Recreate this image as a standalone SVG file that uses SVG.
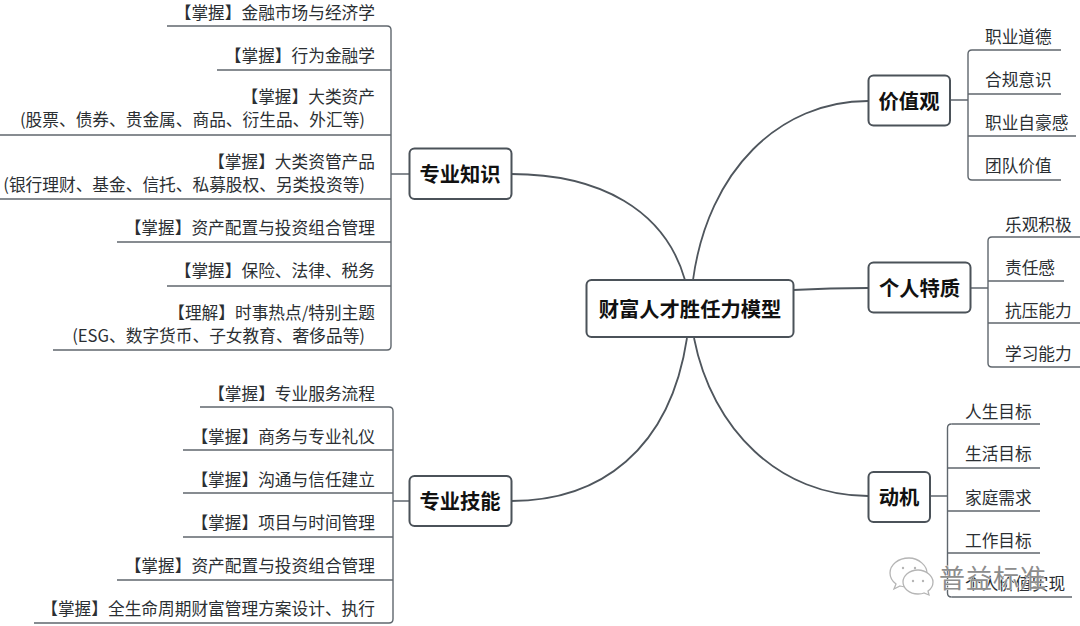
<svg xmlns="http://www.w3.org/2000/svg" width="1080" height="626" viewBox="0 0 1080 626">
<style>
text{font-family:"Noto Sans CJK SC","Noto Sans",sans-serif;fill:#2b2f33;font-size:16.700px}
.r{text-anchor:end}
.box{fill:#fff;stroke:#4b5259;stroke-width:2}
.t{font-weight:700;fill:#111;text-anchor:middle;font-size:20.300px}
.u,.tr{fill:none;stroke:#5f666d;stroke-width:1.400}
.cv{fill:none;stroke:#4f565d;stroke-width:1.800}
.wm{fill:#8d8d8d;stroke:#fff;stroke-width:.8;font-size:26px;paint-order:stroke;letter-spacing:1px}
.ic{fill:#fff;stroke:#b5b5b5;stroke-width:1.300}
.dot{fill:#b5b5b5}
</style>
<g id="connectors">
<path class="cv" d="M511 174C600 174 665 210 685 280"/>
<path class="cv" d="M511 501C600 501 670 450 687 338"/>
<path class="cv" d="M693 280C708 170 780 101 868 101"/>
<path class="cv" d="M793 290Q830 288 868 288"/>
<path class="cv" d="M694 338C712 430 780 496 868 496"/>
<path class="tr" d="M391 30V346M387 350Q391 350 391 346M387 26Q391 26 391 30M391 174H409"/>
<path class="tr" d="M393 411V619M389 623Q393 623 393 619M389 407Q393 407 393 411M393 501H409"/>
<path class="tr" d="M968 54V176M972 50Q968 50 968 54M972 180Q968 180 968 176M950 100H968"/>
<path class="tr" d="M988 241V363M992 237Q988 237 988 241M992 367Q988 367 988 363M970 288H988"/>
<path class="tr" d="M947.500 428V593M951.500 424Q947.500 424 947.500 428M951.500 597Q947.500 597 947.500 593M930 496H947.500"/>
</g>
<g id="root"><rect class="box" x="586.500" y="280" width="207" height="57" rx="5"/><text class="t" x="690" y="316.500">财富人才胜任力模型</text></g>
<g id="zhuanye-zhishi"><rect class="box" x="409.500" y="148.500" width="102" height="50.500" rx="5"/><text class="t" x="460" y="181.500">专业知识</text></g>
<g id="zhuanye-jineng"><rect class="box" x="409.500" y="476" width="102" height="50" rx="5"/><text class="t" x="460" y="508.500">专业技能</text></g>
<g id="jiazhiguan"><rect class="box" x="868.500" y="75.500" width="81.500" height="50" rx="5"/><text class="t" x="909" y="108.500">价值观</text></g>
<g id="geren-tezhi"><rect class="box" x="868.500" y="262.500" width="102" height="50" rx="5"/><text class="t" x="919.500" y="295.500">个人特质</text></g>
<g id="dongji"><rect class="box" x="868.500" y="472" width="61.500" height="50" rx="5"/><text class="t" x="899" y="504.500">动机</text></g>
<g id="k1"><text class="r" x="375" y="18.500">【掌握】金融市场与经济学</text><path class="u" d="M167 26H387"/></g>
<g id="k2"><text class="r" x="375" y="61.500">【掌握】行为金融学</text><path class="u" d="M217 70H391"/></g>
<g id="k3"><text class="r" x="375" y="102.500">【掌握】大类资产</text><text class="r" x="365" y="125.500">(股票、债券、贵金属、商品、衍生品、外汇等)</text><path class="u" d="M0 135H391"/></g>
<g id="k4"><text class="r" x="375" y="167.500">【掌握】大类资管产品</text><text class="r" x="365" y="190.500">(银行理财、基金、信托、私募股权、另类投资等)</text><path class="u" d="M0 199H391"/></g>
<g id="k5"><text class="r" x="375" y="233.500">【掌握】资产配置与投资组合管理</text><path class="u" d="M117 242H391"/></g>
<g id="k6"><text class="r" x="375" y="276.500">【掌握】保险、法律、税务</text><path class="u" d="M167 286H391"/></g>
<g id="k7"><text class="r" x="375" y="318.500">【理解】时事热点/特别主题</text><text class="r" x="365" y="341.500">(ESG、数字货币、子女教育、奢侈品等)</text><path class="u" d="M53 350H387"/></g>
<g id="s1"><text class="r" x="375" y="399.500">【掌握】专业服务流程</text><path class="u" d="M200 407H389"/></g>
<g id="s2"><text class="r" x="375" y="442.500">【掌握】商务与专业礼仪</text><path class="u" d="M183 450H393"/></g>
<g id="s3"><text class="r" x="375" y="485.500">【掌握】沟通与信任建立</text><path class="u" d="M183 493H393"/></g>
<g id="s4"><text class="r" x="375" y="528.500">【掌握】项目与时间管理</text><path class="u" d="M183 537H393"/></g>
<g id="s5"><text class="r" x="375" y="571.500">【掌握】资产配置与投资组合管理</text><path class="u" d="M117 580H393"/></g>
<g id="s6"><text class="r" x="375" y="614.500">【掌握】全生命周期财富管理方案设计、执行</text><path class="u" d="M34 623H389"/></g>
<g id="v1"><text x="985" y="42.500">职业道德</text><path class="u" d="M972 50H1061"/></g>
<g id="v2"><text x="985" y="85.500">合规意识</text><path class="u" d="M968 94H1061"/></g>
<g id="v3"><text x="985" y="128.500">职业自豪感</text><path class="u" d="M968 136H1076"/></g>
<g id="v4"><text x="985" y="171.500">团队价值</text><path class="u" d="M972 180H1061"/></g>
<g id="p1"><text x="1005" y="230.500">乐观积极</text><path class="u" d="M992 237H1080"/></g>
<g id="p2"><text x="1005" y="273.500">责任感</text><path class="u" d="M988 281H1064"/></g>
<g id="p3"><text x="1005" y="316.500">抗压能力</text><path class="u" d="M988 323H1080"/></g>
<g id="p4"><text x="1005" y="359.500">学习能力</text><path class="u" d="M992 367H1080"/></g>
<g id="m1"><text x="965" y="417.500">人生目标</text><path class="u" d="M951.500 424H1040"/></g>
<g id="m2"><text x="965" y="459.500">生活目标</text><path class="u" d="M947.500 468H1040"/></g>
<g id="m3"><text x="965" y="503.500">家庭需求</text><path class="u" d="M947.500 511H1040"/></g>
<g id="m4"><text x="965" y="546.500">工作目标</text><path class="u" d="M947.500 553H1040"/></g>
<g id="m5"><text x="965" y="589.500">个人价值实现</text><path class="u" d="M951.500 597H1072"/></g>
<g id="watermark">
<path class="ic" d="M909 558c-11 0-19 7-19 15 0 4 2 8 6 11l-2 5 6-3c3 1 6 1 9 1 10 0 18-7 18-14s-8-15-18-15z"/>
<path class="ic" d="M918 570c-9 0-15 6-15 12s6 12 15 12c2 0 4 0 6-1l5 2-1-4c3-2 5-5 5-9 0-6-7-12-15-12z"/>
<circle class="dot" cx="903" cy="568" r="1.200"/><circle class="dot" cx="915" cy="568" r="1.200"/><circle class="dot" cx="913" cy="581" r="1.200"/><circle class="dot" cx="923" cy="581" r="1.200"/>
<text class="wm" x="939" y="588">普益标准</text>
</g>
</svg>
